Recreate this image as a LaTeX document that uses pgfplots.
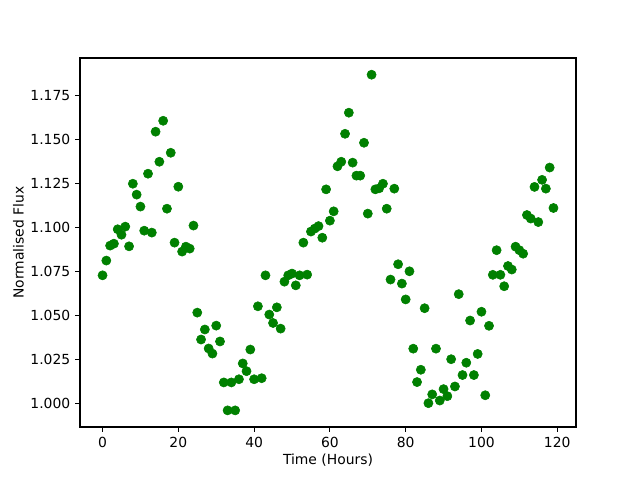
\documentclass[border=0pt]{standalone}
\usepackage{pgfplots}
\pgfplotsset{compat=1.18}
\usepackage{fontspec}
\setmainfont{DejaVu Sans}
\definecolor{mplgreen}{RGB}{0,128,0}
\begin{document}
\begin{tikzpicture}
\begin{axis}[
  scale only axis,
  width=357.12pt, height=265.68pt,
  xmin=-5.95, xmax=124.95,
  ymin=0.98645, ymax=1.1963,
  xtick={0,20,40,60,80,100,120},
  ytick={1.000,1.025,1.050,1.075,1.100,1.125,1.150,1.175},
  yticklabels={1.000,1.025,1.050,1.075,1.100,1.125,1.150,1.175},
  tick align=outside,
  tick pos=left,
  major tick length=3.5pt,
  tick style={line width=0.8pt, black},
  axis line style={line width=0.8pt},
  /pgf/number format/assume math mode=true,
  tick label style={font=\fontsize{10}{12}\selectfont},
  label style={font=\fontsize{10}{12}\selectfont},
  xlabel={Time (Hours)},
  ylabel={Normalised Flux},
  xlabel style={yshift=2pt},
  ylabel style={yshift=-2pt},
]
\addplot[only marks, mark=*, mark size=3.3pt, mplgreen, mark options={fill=mplgreen, draw=mplgreen}] table {
x y
0 1.0727
1 1.0811
2 1.0896
3 1.0907
4 1.0989
5 1.0958
6 1.1004
7 1.0892
8 1.1248
9 1.1186
10 1.1118
11 1.0981
12 1.1305
13 1.0970
14 1.1544
15 1.1373
16 1.1606
17 1.1106
18 1.1424
19 1.0913
20 1.1231
21 1.0862
22 1.0890
23 1.0879
24 1.1010
25 1.0515
26 1.0362
27 1.0419
28 1.0311
29 1.0282
30 1.0441
31 1.0351
32 1.0118
33 0.9959
34 1.0118
35 0.9959
36 1.0136
37 1.0226
38 1.0182
39 1.0305
40 1.0136
41 1.0551
42 1.0142
43 1.0727
44 1.0504
45 1.0456
46 1.0545
47 1.0424
48 1.0691
49 1.0727
50 1.0737
51 1.0670
52 1.0727
53 1.0913
54 1.0731
55 1.0976
56 1.0993
57 1.1007
58 1.0941
59 1.1216
60 1.1038
61 1.1091
62 1.1347
63 1.1373
64 1.1532
65 1.1652
66 1.1368
67 1.1294
68 1.1294
69 1.1481
70 1.1078
71 1.1868
72 1.1216
73 1.1222
74 1.1248
75 1.1106
76 1.0703
77 1.1220
78 1.0790
79 1.0680
80 1.0590
81 1.0750
82 1.0310
83 1.0120
84 1.0190
85 1.0540
86 1.0000
87 1.0050
88 1.0310
89 1.0015
90 1.0080
91 1.0040
92 1.0250
93 1.0095
94 1.0620
95 1.0160
96 1.0230
97 1.0470
98 1.0160
99 1.0280
100 1.0520
101 1.0045
102 1.0440
103 1.0730
104 1.0870
105 1.0730
106 1.0665
107 1.0780
108 1.0760
109 1.0890
110 1.0870
111 1.0850
112 1.1070
113 1.1050
114 1.1230
115 1.1030
116 1.1270
117 1.1220
118 1.1340
119 1.1110
};
\end{axis}
\path[use as bounding box] (-57.6pt,-38.16pt) rectangle (403.2pt,307.44pt);
\end{tikzpicture}
\end{document}
